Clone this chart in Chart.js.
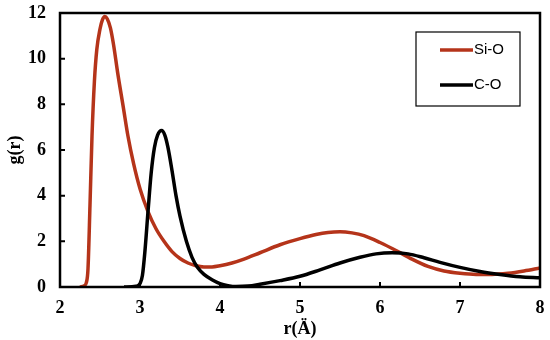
<!DOCTYPE html>
<html>
<head>
<meta charset="utf-8">
<script src="https://cdn.jsdelivr.net/npm/chart.js@4"></script>
<style>
  html, body { margin: 0; padding: 0; background: #fff; }
  #wrap { width: 550px; height: 340px; position: relative; }
</style>
</head>
<body>
<div id="wrap"><canvas id="rdf"></canvas></div>
<script>
// g(r) curves
const siR = [2.25, 2.3, 2.33, 2.35, 2.375, 2.4, 2.43, 2.46, 2.5, 2.53, 2.56, 2.59, 2.63, 2.67, 2.72, 2.79, 2.85, 2.92, 3.0, 3.1, 3.2, 3.3, 3.4, 3.5, 3.6, 3.7, 3.8, 3.9, 4.0, 4.15, 4.3, 4.5, 4.75, 5.0, 5.2, 5.35, 5.5, 5.65, 5.8, 6.0, 6.2, 6.4, 6.6, 6.8, 7.0, 7.2, 7.4, 7.6, 7.8, 8.0];
const siG = [0, 0.05, 0.2, 0.8, 3.6, 6.6, 9.0, 10.4, 11.3, 11.7, 11.85, 11.75, 11.35, 10.6, 9.4, 7.9, 6.6, 5.4, 4.3, 3.3, 2.55, 2.0, 1.55, 1.25, 1.05, 0.93, 0.88, 0.88, 0.93, 1.05, 1.22, 1.5, 1.85, 2.12, 2.3, 2.39, 2.42, 2.37, 2.25, 1.95, 1.6, 1.22, 0.9, 0.7, 0.6, 0.55, 0.55, 0.6, 0.7, 0.83];

const coR = [2.8, 2.95, 3.0, 3.03, 3.06, 3.1, 3.14, 3.18, 3.22, 3.27, 3.31, 3.35, 3.4, 3.45, 3.5, 3.58, 3.65, 3.72, 3.8, 3.9, 4.0, 4.1, 4.2, 4.35, 4.5, 4.75, 5.0, 5.25, 5.5, 5.75, 5.95, 6.15, 6.35, 6.55, 6.75, 7.0, 7.25, 7.5, 7.75, 8.0];
const coG = [0, 0.03, 0.15, 0.5, 1.5, 3.3, 5.0, 6.1, 6.65, 6.85, 6.65, 6.1, 5.1, 4.0, 3.1, 2.0, 1.3, 0.85, 0.55, 0.32, 0.15, 0.06, 0.02, 0.04, 0.12, 0.28, 0.47, 0.75, 1.05, 1.3, 1.45, 1.5, 1.45, 1.28, 1.08, 0.86, 0.68, 0.55, 0.45, 0.4];

const xTicks = [2, 3, 4, 5, 6, 7, 8];
const yTicks = [0, 2, 4, 6, 8, 10, 12];

const seriesNames = ['Si-O', 'C-O'];
const seriesColors = ['#B5341A', '#000000'];

const toPts = (xs, ys) => xs.map((x, i) => ({ x: x, y: ys[i] }));

const serif = '"Liberation Serif", "Times New Roman", serif';

// frame + inward ticks
const framePlugin = {
    id: 'frame',
    afterDatasetsDraw(chart) {
        const { ctx, chartArea: a, scales } = chart;
        ctx.save();
        ctx.strokeStyle = '#000';
        ctx.lineWidth = 2;
        ctx.beginPath();
        xTicks.forEach(v => {
            const px = scales.x.getPixelForValue(v);
            ctx.moveTo(px, a.bottom);
            ctx.lineTo(px, a.bottom - 5);
        });
        yTicks.forEach(v => {
            const py = scales.y.getPixelForValue(v);
            ctx.moveTo(a.left, py);
            ctx.lineTo(a.left + 5, py);
        });
        ctx.stroke();
        ctx.lineWidth = 2.5;
        ctx.strokeRect(a.left, a.top, a.right - a.left, a.bottom - a.top);
        ctx.restore();
    }
};

// boxed legend in the top right corner
const legendBox = {
    id: 'legendBox',
    afterDraw(chart) {
        const ctx = chart.ctx;
        ctx.save();
        ctx.strokeStyle = '#000';
        ctx.lineWidth = 1.2;
        ctx.strokeRect(416, 32, 104, 74);
        ctx.font = '15px "Liberation Sans", Arial, sans-serif';
        ctx.textBaseline = 'middle';
        chart.data.datasets.forEach((ds, i) => {
            const y = 50 + i * 35;
            ctx.strokeStyle = ds.borderColor;
            ctx.lineWidth = 3.5;
            ctx.beginPath();
            ctx.moveTo(440, y);
            ctx.lineTo(473, y);
            ctx.stroke();
            ctx.fillStyle = '#000';
            ctx.fillText(ds.label, 474, y);
        });
        ctx.restore();
    }
};

const noPad = s => {
    s.paddingLeft = 0;
    s.paddingRight = 0;
    s.paddingTop = 0;
    s.paddingBottom = 0;
};

new Chart(document.getElementById('rdf'), {
    type: 'line',
    data: {
        datasets: [
            {
                label: seriesNames[0],
                data: toPts(siR, siG),
                borderColor: seriesColors[0],
                borderWidth: 3.5,
                pointRadius: 0,
                cubicInterpolationMode: 'monotone',
                order: 1
            },
            {
                label: seriesNames[1],
                data: toPts(coR, coG),
                borderColor: seriesColors[1],
                borderWidth: 3.5,
                pointRadius: 0,
                cubicInterpolationMode: 'monotone',
                order: 0
            }
        ]
    },
    options: {
        responsive: true,
        maintainAspectRatio: false,
        animation: false,
        layout: { padding: { top: 13, right: 10, left: 5, bottom: 0 } },
        plugins: {
            legend: { display: false },
            tooltip: { enabled: false }
        },
        scales: {
            x: {
                type: 'linear',
                min: 2,
                max: 8,
                afterBuildTicks: s => { s.ticks = xTicks.map(v => ({ value: v })); },
                afterFit: s => { s.height = 53; noPad(s); },
                grid: { display: false, drawTicks: false },
                border: { display: false },
                ticks: { color: '#000', padding: 11, font: { family: serif, size: 18, weight: 'bold' } },
                title: {
                    display: true,
                    text: 'r(Ä)',
                    color: '#000',
                    padding: { top: 0, bottom: 0 },
                    font: { family: serif, size: 18, weight: 'bold' }
                }
            },
            y: {
                min: 0,
                max: 12,
                afterBuildTicks: s => { s.ticks = yTicks.map(v => ({ value: v })); },
                afterFit: s => { s.width = 55; noPad(s); },
                grid: { display: false, drawTicks: false },
                border: { display: false },
                ticks: { color: '#000', padding: 14, font: { family: serif, size: 18, weight: 'bold' } },
                title: {
                    display: true,
                    text: 'g(r)',
                    color: '#000',
                    padding: { top: 0, bottom: 0 },
                    font: { family: serif, size: 18, weight: 'bold' }
                }
            }
        }
    },
    plugins: [framePlugin, legendBox]
});
</script>
</body>
</html>
